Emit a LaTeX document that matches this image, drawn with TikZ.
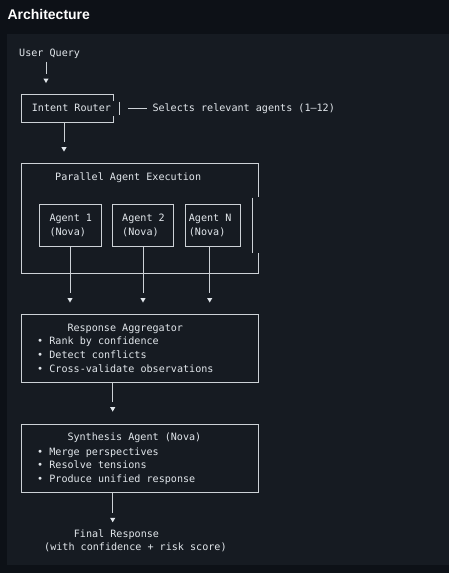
\documentclass[tikz,border=0pt]{standalone}
\usepackage{fontspec}
\setmainfont{Liberation Sans}
\setmonofont{DejaVu Sans Mono}
\usepackage{xcolor}
\usetikzlibrary{shapes.geometric,positioning,calc}
\definecolor{pagebg}{HTML}{0D1117}
\definecolor{panelbg}{HTML}{161B22}
\definecolor{inkcolor}{HTML}{E2E7EC}
\definecolor{linecolor}{HTML}{CDD2D7}

\tikzset{
    mono/.style={font=\ttfamily\fontsize{10.1}{12}\selectfont, text=inkcolor, inner sep=0pt, anchor=base west},
    frame/.style={draw=linecolor, line width=0.9pt},
    box/.style={frame, rectangle, inner sep=0pt},
    hold/.style={rectangle, inner sep=0pt},
    stem/.style={draw=linecolor, line width=0.9pt, shorten >=4.5pt},
    tip/.style={regular polygon, regular polygon sides=3, shape border rotate=180, fill=inkcolor, inner sep=0pt, minimum size=6pt}
}

\begin{document}
\begin{tikzpicture}[x=1pt,y=-1pt]
    % Page and code panel
    \fill[pagebg] (0,0) rectangle (449,573);
    \fill[panelbg] (7,34) rectangle (449,565);
    \useasboundingbox (0,0) rectangle (449,573);
    \node[font=\bfseries\fontsize{14}{16}\selectfont, text=white, inner sep=0pt, anchor=base west] (title) at (7.3,19.5) {Architecture};

    % Query and router
    \node[mono] (query) at (19,56.7) {User Query};
    \node[tip] (tipq) at (46,80) {};
    \draw[stem, shorten <=2.6pt] (tipq |- query.south) -- (tipq.north);

    \node[hold, minimum width=91.6pt, minimum height=27.3pt] (router) at (67.5,108.65) {};
    \draw[frame] ($(router.north east)+(0,5.7)$) -- (router.north east) -- (router.north west)
        -- (router.south west) -- (router.south east) -- ($(router.south east)+(0,-6.6)$);
    \draw[frame] ($(router.east)+(5.7,-7)$) -- ($(router.east)+(5.7,6.4)$);
    \node[mono] (routerlbl) at (31.7,111.7) {Intent Router};
    \node[mono] (note) at (152.3,111.7) {Selects relevant agents (1–12)};
    \draw[frame, shorten <=14.4pt, shorten >=5.6pt] (router.east) -- (router.east -| note.west);

    \node[tip] (tipr) at (64,148.6) {};
    \draw[stem] (tipr |- router.south) -- (tipr.north);

    % Parallel agents
    \node[hold, minimum width=236.6pt, minimum height=110pt] (parallel) at (140,218.3) {};
    \draw[frame] ($(parallel.north east)+(0,33.4)$) -- (parallel.north east) -- (parallel.north west)
        -- (parallel.south west) -- (parallel.south east) -- ($(parallel.south east)+(0,-20.6)$);
    \draw[frame] ($(parallel.north east)+(-6,34.4)$) -- ($(parallel.south east)+(-6,-21)$);
    \node[mono] (parallellbl) at (55,180) {Parallel Agent Execution};

    \node[box, minimum width=61.7pt, minimum height=41.7pt] (agent1) at (70.15,225.15) {};
    \node[box, minimum width=61pt, minimum height=41.7pt] (agent2) at (142.8,225.15) {};
    \node[box, minimum width=55pt, minimum height=41.7pt] (agentN) at (212.5,225.15) {};
    \node[mono] (agent1a) at (49.3,221.5) {Agent 1};
    \node[mono] (agent1b) at (49.3,235.2) {(Nova)};
    \node[mono] (agent2a) at (122,221.5) {Agent 2};
    \node[mono] (agent2b) at (122,235.2) {(Nova)};
    \node[mono] (agentNa) at (188.7,221.5) {Agent N};
    \node[mono] (agentNb) at (188.7,235.2) {(Nova)};

    \node[tip] (tip1) at (70,299.5) {};
    \node[tip] (tip2) at (143,299.5) {};
    \node[tip] (tipN) at (209.7,299.5) {};
    \draw[stem] (tip1 |- agent1.south) -- (tip1.north);
    \draw[stem] (tip2 |- agent2.south) -- (tip2.north);
    \draw[stem] (tipN |- agentN.south) -- (tipN.north);

    % Aggregator
    \node[box, minimum width=236.6pt, minimum height=68.7pt] (agg) at (140,348.35) {};
    \node[mono] (agglbl) at (67.3,331) {Response Aggregator};
    \node[mono] (agg1) at (37,344.7) {• Rank by confidence};
    \node[mono] (agg2) at (37,358.4) {• Detect conflicts};
    \node[mono] (agg3) at (37,372.1) {• Cross-validate observations};

    \node[tip] (tipa) at (112.7,408.6) {};
    \draw[stem] (tipa |- agg.south) -- (tipa.north);

    % Synthesis
    \node[box, minimum width=236.6pt, minimum height=68.4pt] (synth) at (140,458.5) {};
    \node[mono] (synthlbl) at (67.3,440.7) {Synthesis Agent (Nova)};
    \node[mono] (synth1) at (37,455) {• Merge perspectives};
    \node[mono] (synth2) at (37,468.7) {• Resolve tensions};
    \node[mono] (synth3) at (37,482.4) {• Produce unified response};

    \node[tip] (tips) at (112.7,519.3) {};
    \draw[stem] (tips |- synth.south) -- (tips.north);

    % Output
    \node[mono] (final) at (73.7,537) {Final Response};
    \node[mono] (finalnote) at (44,550.8) {(with confidence + risk score)};
\end{tikzpicture}
\end{document}
